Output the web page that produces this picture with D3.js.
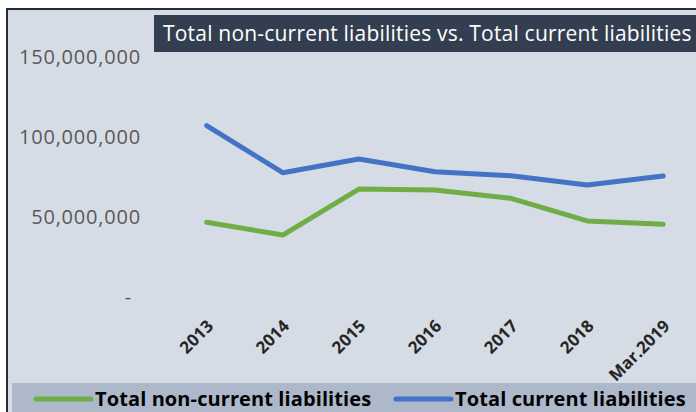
<!DOCTYPE html>
<html>
<head>
<meta charset="utf-8">
<script src="https://cdn.jsdelivr.net/npm/d3@7"></script>
<style>
  body { margin: 0; background: #ffffff; }
  svg { display: block; font-family: "Open Sans", Lato, sans-serif; }
</style>
</head>
<body>
<script>
// Chart data
var years = ["2013", "2014", "2015", "2016", "2017", "2018", "Mar.2019"];
var nonCurrent = [46.8e6, 38.8e6, 67.5e6, 66.9e6, 61.7e6, 47.6e6, 45.5e6];
var current = [107.0e6, 77.7e6, 86.2e6, 78.3e6, 75.8e6, 70.0e6, 75.6e6];
var yTicks = [0, 50e6, 100e6, 150e6];
var seriesNames = ["Total non-current liabilities", "Total current liabilities"];
var seriesColors = ["#70ad47", "#4472c4"];
var title = "Total non-current liabilities vs. Total current liabilities";

var width = 696, height = 412;
var font = "'Open Sans', Lato, sans-serif";

var svg = d3.select("body")
    .append("svg")
    .attr("width", width)
    .attr("height", height);

// Chart area with dark border on top and left
svg.append("rect")
    .attr("x", 7).attr("y", 9)
    .attr("width", width).attr("height", height)
    .attr("fill", "#d6dce5")
    .attr("stroke", "#262c35")
    .attr("stroke-width", 2);

// Scales
var xScale = d3.scalePoint()
    .domain(years)
    .range([168.6, 701.3])
    .padding(0.5);

var yScale = d3.scaleLinear()
    .domain([0, 150e6])
    .range([297.3, 56.7]);

// Baseline
svg.append("line")
    .attr("x1", 170).attr("x2", width)
    .attr("y1", yScale(0)).attr("y2", yScale(0))
    .attr("stroke", "#dcdcdc")
    .attr("stroke-width", 1.5);

// Y axis (labels only)
var yAxis = d3.axisLeft(yScale)
    .tickValues(yTicks)
    .tickSize(0)
    .tickPadding(0)
    .tickFormat(function(d) { return d === 0 ? "-" : d3.format(",")(d); });

var yG = svg.append("g")
    .attr("transform", "translate(141,0)")
    .call(yAxis)
    .attr("font-family", font);
yG.select(".domain").remove();
yG.selectAll("text")
    .attr("fill", "#595959")
    .style("font-size", "20px")
    .style("letter-spacing", "0.8px")
    .attr("dx", function(d) { return d === 0 ? -9 : 0; });

// X axis (rotated labels)
var xAxis = d3.axisBottom(xScale)
    .tickSize(0)
    .tickPadding(0);

var xG = svg.append("g")
    .call(xAxis)
    .attr("font-family", font);
xG.select(".domain").remove();
xG.selectAll("text")
    .attr("fill", "#262626")
    .style("font-size", "17px")
    .style("font-weight", "bold")
    .attr("text-anchor", "end")
    .attr("dy", "0.35em")
    .attr("y", 0)
    .attr("transform", "translate(3,323) rotate(-45)");

// Lines
var line = d3.line()
    .x(function(d, i) { return xScale(years[i]); })
    .y(function(d) { return yScale(d); });

[nonCurrent, current].forEach(function(series, i) {
    svg.append("path")
        .datum(series)
        .attr("fill", "none")
        .attr("stroke", seriesColors[i])
        .attr("stroke-width", 5)
        .attr("stroke-linecap", "round")
        .attr("stroke-linejoin", "round")
        .attr("d", line);
});

// Title box
svg.append("rect")
    .attr("x", 154).attr("y", 15)
    .attr("width", width - 154).attr("height", 37)
    .attr("fill", "#333f50");

svg.append("text")
    .attr("x", 163).attr("y", 34)
    .attr("dy", "0.35em")
    .attr("fill", "#ffffff")
    .style("font-size", "21px")
    .style("letter-spacing", "0.2px")
    .text(title);

// Legend
svg.append("rect")
    .attr("x", 12).attr("y", 383)
    .attr("width", width - 12).attr("height", 30)
    .attr("fill", "#adb9ca");

var legendX = [[36, 91, 95], [396, 451, 455]];
seriesNames.forEach(function(name, i) {
    svg.append("line")
        .attr("x1", legendX[i][0]).attr("x2", legendX[i][1])
        .attr("y1", 399).attr("y2", 399)
        .attr("stroke", seriesColors[i])
        .attr("stroke-width", 5)
        .attr("stroke-linecap", "round");
    svg.append("text")
        .attr("x", legendX[i][2]).attr("y", 399)
        .attr("dy", "0.35em")
        .attr("fill", "#000000")
        .style("font-size", "20px")
        .style("font-weight", "bold")
        .style("letter-spacing", "0.1px")
        .text(name);
});
</script>
</body>
</html>
